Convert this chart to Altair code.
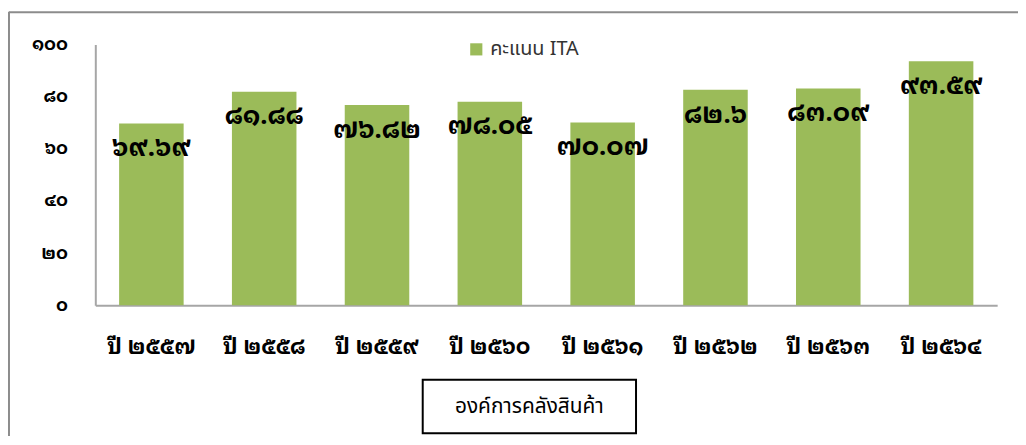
import altair as alt
import pandas as pd

years = ["ปี ๒๕๕๗", "ปี ๒๕๕๘", "ปี ๒๕๕๙", "ปี ๒๕๖๐", "ปี ๒๕๖๑", "ปี ๒๕๖๒", "ปี ๒๕๖๓", "ปี ๒๕๖๔"]
scores = [69.69, 81.88, 76.82, 78.05, 70.07, 82.6, 83.09, 93.59]
score_labels = ["๖๙.๖๙", "๘๑.๘๘", "๗๖.๘๒", "๗๘.๐๕", "๗๐.๐๗", "๘๒.๖", "๘๓.๐๙", "๙๓.๕๙"]
y_ticks = [0, 20, 40, 60, 80, 100]
y_tick_labels = ["๐", "๒๐", "๔๐", "๖๐", "๘๐", "๑๐๐"]
series_name = "คะแนน ITA"
x_title = "องค์การคลังสินค้า"

THAI = "Noto Sans Thai Looped, Noto Sans Thai, Noto Serif Thai, Loma, Garuda, Tlwg Typo, sans-serif"
THAI_PLAIN = "Noto Sans Thai, Loma, Garuda, sans-serif"

df = pd.DataFrame({"year": years, "score": scores, "label": score_labels, "series": series_name})

expr = "''"
for v, l in zip(reversed(y_ticks), reversed(y_tick_labels)):
    expr = f"datum.value == {v} ? '{l}' : ({expr})"

W, H = 909, 263

x_enc = alt.X("year:N", sort=years,
              scale=alt.Scale(paddingInner=0.428, paddingOuter=0.211),
              axis=alt.Axis(title=None, labelAngle=0, ticks=False, domainColor="#a6a6a6", domainWidth=2,
                            labelFont=THAI, labelFontSize=22, labelFontWeight="bold", labelColor="#000000",
                            labelPadding=32))
y_enc = alt.Y("score:Q", scale=alt.Scale(domain=[0, 100], nice=False),
              axis=alt.Axis(title=None, values=y_ticks, labelExpr=expr, grid=False, ticks=False,
                            domainColor="#a6a6a6", domainWidth=2,
                            labelFont=THAI, labelFontSize=18, labelFontWeight="bold", labelColor="#000000",
                            labelPadding=28))

bars = alt.Chart(df).mark_bar(color="#9bbb59").encode(
    x=x_enc, y=y_enc,
    color=alt.Color("series:N", scale=alt.Scale(range=["#9bbb59"]),
                    legend=alt.Legend(title=None, orient="none", legendX=374, legendY=-5,
                                      symbolType="square", symbolSize=150, symbolStrokeWidth=0,
                                      labelFont=THAI_PLAIN, labelFontSize=20, labelColor="#333333"))
)

texts = alt.Chart(df).mark_text(font=THAI, fontSize=26, fontWeight="bold", color="#000000",
                                dy=25, baseline="middle").encode(
    x=alt.X("year:N", sort=years), y="score:Q", text="label:N")

one = pd.DataFrame({"t": [x_title]})
box = alt.Chart(one).mark_rect(fill="white", stroke="#000000", strokeWidth=2).encode(
    x=alt.value(330), x2=alt.value(545), y=alt.value(338), y2=alt.value(392))
title_text = alt.Chart(one).mark_text(font=THAI_PLAIN, fontSize=21, color="#000000").encode(
    x=alt.value(437.5), y=alt.value(366), text="t:N")

border_left = alt.Chart(one).mark_rule(color="#8c8c8c", strokeWidth=2).encode(
    x=alt.value(-87), y=alt.value(-33), y2=alt.value(400))
border_top = alt.Chart(one).mark_rule(color="#8c8c8c", strokeWidth=2).encode(
    x=alt.value(-87), x2=alt.value(960), y=alt.value(-32.5))

chart = alt.layer(bars, texts, box, title_text, border_left, border_top).properties(
    width=W, height=H,
    autosize=alt.AutoSizeParams(type="none"),
    padding={"left": 88, "top": 35, "right": 21, "bottom": 130},
).configure(background="white", view=alt.ViewConfig(stroke=None))

chart.save("out.html", embed_options={"renderer": "svg", "actions": False})
